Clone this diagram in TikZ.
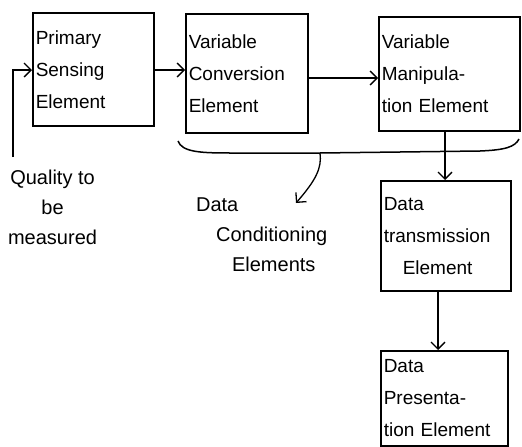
\documentclass[tikz,border=0pt]{standalone}
\usepackage{fontspec}
\setmainfont{Liberation Sans}
\usetikzlibrary{arrows.meta}
\begin{document}
\begin{tikzpicture}[x=1pt,y=-1pt,
  every path/.style={line width=1.5pt},
  blk/.style={draw, line width=1.5pt, rectangle, inner sep=3pt, align=left, anchor=north west,
     font=\fontsize{19}{32}\selectfont},
  lbl/.style={font=\fontsize{20}{30}\selectfont},
  arr/.style={-{Straight Barb[length=7pt,width=14pt,line width=1.3pt]}, line width=1.3pt}]
\useasboundingbox (0,0) rectangle (522,447);
\node[blk, minimum width=121pt, minimum height=113pt, text width=115pt] (b1) at (32,12)
  {Primary\\Sensing\\Element};
\node[blk, minimum width=122pt, minimum height=119pt, text width=116pt] (b2) at (185,13)
  {Variable\\Conversion\\Element};
\node[blk, minimum width=141pt, minimum height=114pt, text width=135pt] (b3) at (378,16)
  {Variable\\Manipula-\\tion Element};
\node[blk, minimum width=130pt, minimum height=110pt, text width=124pt] (b4) at (380,180)
  {Data\\transmission\\\hspace*{1em}Element};
\node[blk, minimum width=127pt, minimum height=95pt, text width=121pt] (b5) at (380,350)
  {Data\\Presenta-\\tion Element};
\node[lbl, anchor=north west, align=center] (q) at (4,166) {Quality to\\be\\measured};
\node[lbl, anchor=north west, align=left] (dc) at (192,194)
  {Data\\\hspace*{1em}Conditioning\\\hspace*{1.8em}Elements};
% input
\coordinate (qin) at (13,157);
\draw[arr] (qin) |- (b1.west |- 0,70);
% connectors
\draw[arr] (b1.east |- 0,70) -- (b2.west |- 0,70);
\draw[arr] (b2.east |- 0,78) -- (b3.west |- 0,78);
\draw[arr] (b3.south -| 445,0) -- (b4.north -| 445,0);
\draw[arr] (b4.south -| 438,0) -- (b5.north -| 438,0);
% brace
\coordinate (bl) at (178,141);
\coordinate (bm) at (320,153);
\coordinate (br) at (519,139);
\draw (bl) .. controls (182,152) and (200,153) .. (230,153) -- (bm)
  -- (480,151) .. controls (505,150) and (515,147) .. (br);
\draw[arr] (bm) .. controls (322,168) and (316,180) .. (296,203);
\end{tikzpicture}
\end{document}
